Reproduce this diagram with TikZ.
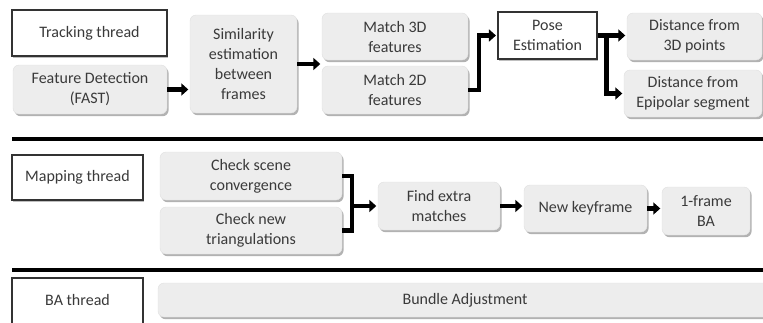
\documentclass[tikz,border=0pt]{standalone}
\usepackage{fontspec}
\setmainfont{Carlito}
\usetikzlibrary{arrows.meta,shadows}

\definecolor{boxgray}{HTML}{EDEDED}
\definecolor{txt}{HTML}{3A3A3A}

\tikzset{
  base/.style={font=\fontsize{16}{20}\selectfont, text=txt, align=center,
    inner sep=0pt, minimum width=#1},
  procbox/.style={base=#1, fill=boxgray, draw=black!12, line width=0.4pt,
    rounded corners=6pt,
    drop shadow={shadow xshift=1.6pt, shadow yshift=-2.2pt, fill=black!55, opacity=0.55}},
  threadbox/.style={base=#1, fill=white, draw=black!80, line width=1.1pt,
    drop shadow={shadow xshift=1.4pt, shadow yshift=-1.6pt, fill=black!50, opacity=0.5}},
  link/.style={line width=4.5pt, draw=black},
  flow/.style={link, -{Triangle[length=7pt,width=12pt]}, shorten >=1.5pt},
  rule/.style={line width=4.5pt, draw=black},
}

\begin{document}
\begin{tikzpicture}[x=1pt, y=-1pt]
  \clip (0,0) rectangle (763,322);
  \fill[white] (0,0) rectangle (763,322);

  % ---------- tracking thread ----------
  \node[threadbox=155, minimum height=46] (track) at (89.5,33) {Tracking thread};
  \node[procbox=154, minimum height=49] (fd) at (90,89.5) {Feature Detection\\(FAST)};
  \node[procbox=107, minimum height=98] (sim) at (243.5,64) {Similarity\\estimation\\between\\frames};
  \node[procbox=146, minimum height=47] (m3d) at (395,36.5) {Match 3D\\features};
  \node[procbox=146, minimum height=48] (m2d) at (395,90) {Match 2D\\features};
  \node[threadbox=99, minimum height=47] (pose) at (547.5,35.5) {Pose\\Estimation};
  \node[procbox=135, minimum height=47] (d3d) at (694.5,36.5) {Distance from\\3D points};
  \node[procbox=138, minimum height=47] (dep) at (693,93.5) {Distance from\\Epipolar segment};

  \draw[flow] (fd.east) -- (fd.east -| sim.west);
  \draw[flow] (sim.east) -- (sim.east -| m3d.west);
  \draw[flow] (m2d.east) -- ++(11,0) |- (pose.west);
  \coordinate (pj) at ([xshift=9pt]pose.east);
  \draw[flow] (pose.east) -- (pose.east -| d3d.west);
  \draw[flow] (pj) |- (dep.west);

  \coordinate (r1a) at (12,139);
  \coordinate (r1b) at (763,139);
  \draw[rule] (r1a) -- (r1b);

  % ---------- mapping thread ----------
  \node[threadbox=131, minimum height=45] (map) at (77.5,177.5) {Mapping thread};
  \node[procbox=182, minimum height=48] (csc) at (251,176) {Check scene\\convergence};
  \node[procbox=182, minimum height=47] (cnt) at (251,230.5) {Check new\\triangulations};
  \node[procbox=122, minimum height=48] (fem) at (439,206) {Find extra\\matches};
  \node[procbox=123, minimum height=47] (nkf) at (585.5,208.5) {New keyframe};
  \node[procbox=88, minimum height=48] (fba) at (706,211) {1-frame\\BA};

  \coordinate (mj) at (352,206);
  \draw[link] (csc.east) -| (mj) |- (cnt.east);
  \draw[flow] (mj) -- (fem.west);
  \draw[flow] (fem.east) -- (fem.east -| nkf.west);
  \draw[flow] (nkf.east) -- (nkf.east -| fba.west);

  \coordinate (r2a) at (12,270);
  \coordinate (r2b) at (763,270);
  \draw[rule] (r2a) -- (r2b);

  % ---------- BA thread (runs past the lower edge) ----------
  \node[threadbox=131, minimum height=52, text depth=8pt] (bat) at (77.5,304) {BA thread};
  \node[procbox=614, minimum height=34] (bund) at (465,300) {Bundle Adjustment};
\end{tikzpicture}
\end{document}
